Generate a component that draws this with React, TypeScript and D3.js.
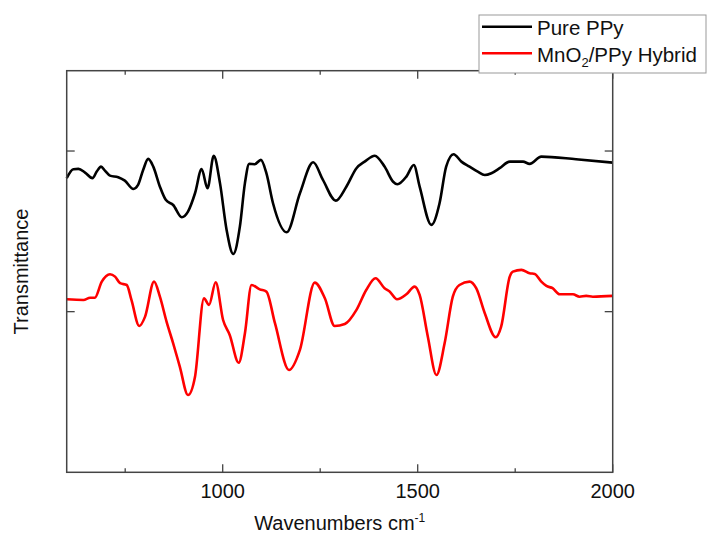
import React from "react";
import * as d3 from "d3";

const wavenumbersPure = [600, 617, 630, 647, 666, 677, 688, 698, 711, 732, 749, 771, 783, 796, 809, 822, 839, 854, 873, 895, 911, 929, 946, 961, 977, 993, 1010, 1027, 1044, 1057, 1068, 1082, 1098, 1112, 1129, 1164, 1198, 1232, 1257, 1290, 1317, 1343, 1364, 1390, 1415, 1437, 1448, 1471, 1490, 1505, 1535, 1556, 1573, 1592, 1612, 1633, 1654, 1672, 1689, 1710, 1736, 1770, 1787, 1817, 1906, 2000];
const transPure = [1.831, 1.887, 1.889, 1.866, 1.831, 1.872, 1.903, 1.878, 1.847, 1.837, 1.816, 1.764, 1.789, 1.882, 1.951, 1.903, 1.778, 1.696, 1.664, 1.588, 1.623, 1.737, 1.887, 1.768, 1.97, 1.8, 1.509, 1.359, 1.529, 1.8, 1.92, 1.918, 1.945, 1.862, 1.675, 1.494, 1.737, 1.93, 1.82, 1.691, 1.778, 1.893, 1.934, 1.971, 1.903, 1.809, 1.793, 1.841, 1.913, 1.778, 1.54, 1.675, 1.903, 1.98, 1.934, 1.903, 1.872, 1.851, 1.862, 1.893, 1.934, 1.934, 1.92, 1.965, 1.949, 1.928];

const wavenumbersHybrid = [600, 643, 660, 672, 690, 711, 724, 737, 754, 766, 786, 801, 824, 839, 856, 873, 890, 911, 929, 952, 965, 982, 1001, 1018, 1041, 1057, 1074, 1095, 1112, 1134, 1170, 1198, 1236, 1262, 1287, 1313, 1343, 1368, 1392, 1415, 1428, 1447, 1471, 1492, 1505, 1526, 1548, 1569, 1590, 1607, 1633, 1650, 1672, 1700, 1714, 1736, 1744, 1766, 1787, 1800, 1817, 1830, 1846, 1864, 1898, 1915, 1932, 1949, 2000];
const transHybrid = [1.077, 1.073, 1.087, 1.087, 1.187, 1.233, 1.218, 1.177, 1.166, 1.073, 0.911, 0.969, 1.187, 1.093, 0.938, 0.803, 0.658, 0.481, 0.595, 1.083, 1.042, 1.183, 0.948, 0.855, 0.682, 0.866, 1.166, 1.139, 1.125, 0.928, 0.637, 0.762, 1.181, 1.083, 0.911, 0.923, 1.011, 1.135, 1.208, 1.146, 1.125, 1.077, 1.108, 1.156, 1.104, 0.844, 0.606, 0.803, 1.093, 1.166, 1.187, 1.146, 0.99, 0.841, 0.907, 1.218, 1.249, 1.26, 1.239, 1.235, 1.187, 1.16, 1.146, 1.108, 1.108, 1.093, 1.098, 1.093, 1.098];

const xMajorTicks = [1000, 1500, 2000];
const xMinorTicks = [750, 1250, 1750];
const yTicks = [1, 2];
const seriesNames = ["Pure PPy", "MnO2/PPy Hybrid"];
const seriesColors = ["#000000", "#ff0000"];

export default function App() {
  const left = 66.7, right = 612.7, top = 70.7, bottom = 472.3;
  const x = d3.scaleLinear().domain([600, 2000]).range([left, right]);
  const y = d3.scaleLinear().domain([0, 2.5]).range([bottom, top]);
  const line = d3
    .line<[number, number]>()
    .x((d) => x(d[0]))
    .y((d) => y(d[1]))
    .curve(d3.curveMonotoneX);
  const pure: [number, number][] = wavenumbersPure.map((w, i) => [w, transPure[i]]);
  const hybrid: [number, number][] = wavenumbersHybrid.map((w, i) => [w, transHybrid[i]]);
  const font = "'Liberation Sans', Arial, sans-serif";
  const axisColor = "#444";

  return (
    <svg
      width={708}
      height={543}
      style={{ position: "absolute", left: 0, top: 0, background: "#fff" }}
      fontFamily={font}
    >
      <rect x={0} y={0} width={708} height={543} fill="#fff" />
      <path d={line(pure) || ""} fill="none" stroke={seriesColors[0]} strokeWidth={2.6} strokeLinejoin="round" />
      <path d={line(hybrid) || ""} fill="none" stroke={seriesColors[1]} strokeWidth={2.6} strokeLinejoin="round" />

      {/* frame */}
      <rect x={left} y={top} width={right - left} height={bottom - top} fill="none" stroke={axisColor} strokeWidth={1.5} />

      {/* x ticks */}
      {xMajorTicks.map((t) => (
        <g key={"M" + t}>
          <line x1={x(t)} x2={x(t)} y1={bottom} y2={bottom - 8} stroke={axisColor} strokeWidth={1.3} />
          <line x1={x(t)} x2={x(t)} y1={top} y2={top + 8} stroke={axisColor} strokeWidth={1.3} />
          <text x={x(t)} y={498} textAnchor="middle" fontSize={20} fill="#111">
            {t}
          </text>
        </g>
      ))}
      {xMinorTicks.map((t) => (
        <g key={"m" + t}>
          <line x1={x(t)} x2={x(t)} y1={bottom} y2={bottom - 4} stroke={axisColor} strokeWidth={1.3} />
          <line x1={x(t)} x2={x(t)} y1={top} y2={top + 4} stroke={axisColor} strokeWidth={1.3} />
        </g>
      ))}
      {yTicks.map((t) => (
        <g key={"y" + t}>
          <line x1={left} x2={left + 8} y1={y(t)} y2={y(t)} stroke={axisColor} strokeWidth={1.3} />
          <line x1={right} x2={right - 8} y1={y(t)} y2={y(t)} stroke={axisColor} strokeWidth={1.3} />
        </g>
      ))}

      {/* axis titles */}
      <text x={(left + right) / 2} y={530} textAnchor="middle" fontSize={20} fill="#111">
        Wavenumbers cm
        <tspan dy={-8} fontSize={12}>-1</tspan>
      </text>
      <text transform={`translate(28, ${(top + bottom) / 2}) rotate(-90)`} textAnchor="middle" fontSize={20} fill="#111">
        Transmittance
      </text>

      {/* legend */}
      <rect x={479} y={15} width={227} height={58} fill="#fff" stroke="#999" strokeWidth={1} />
      <line x1={482} x2={532} y1={26.7} y2={26.7} stroke={seriesColors[0]} strokeWidth={2.6} />
      <text x={537} y={35} fontSize={20.5} fill="#111">
        {seriesNames[0]}
      </text>
      <line x1={482} x2={532} y1={53.3} y2={53.3} stroke={seriesColors[1]} strokeWidth={2.6} />
      <text x={537} y={61.5} fontSize={20.5} fill="#111">
        MnO
        <tspan dy={5} fontSize={13}>2</tspan>
        <tspan dy={-5}>/PPy Hybrid</tspan>
      </text>
    </svg>
  );
}
